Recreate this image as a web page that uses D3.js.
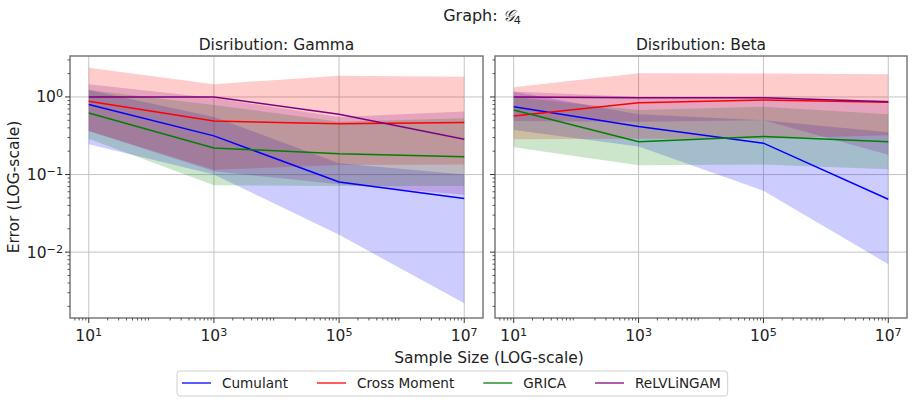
<!DOCTYPE html>
<html>
<head>
<meta charset="utf-8">
<script src="https://cdn.jsdelivr.net/npm/d3@7"></script>
<style>
  body { margin: 0; background: #fff; }
  svg text { font-family: "DejaVu Sans", sans-serif; fill: #222; }
</style>
</head>
<body>
<svg id="chart" width="915" height="403"></svg>
<script>
// Sample sizes on the x axis
const sizes = [10, 1000, 100000, 10000000];
const methods = ["Cumulant", "Cross Moment", "GRICA", "ReLVLiNGAM"];
const methodColors = ["blue", "red", "green", "purple"];

// Gamma panel: one row per method (mean, lower band, upper band)
const gammaMid = [
    [0.80, 0.315, 0.080, 0.049],
    [0.88, 0.49, 0.45, 0.47],
    [0.62, 0.22, 0.185, 0.17],
    [1.00, 1.00, 0.60, 0.285]
];
const gammaLow = [
    [0.246, 0.10, 0.0167, 0.0022],
    [0.365, 0.115, 0.133, 0.135],
    [0.29, 0.073, 0.071, 0.071],
    [0.365, 0.11, 0.075, 0.055]
];
const gammaHigh = [
    [1.23, 0.55, 0.14, 0.10],
    [2.38, 1.46, 1.88, 1.82],
    [1.23, 0.79, 0.48, 0.53],
    [1.46, 0.97, 0.55, 0.65]
];

// Beta panel
const betaMid = [
    [0.75, 0.415, 0.254, 0.048],
    [0.57, 0.845, 0.915, 0.855],
    [0.68, 0.264, 0.31, 0.264],
    [1.00, 0.98, 0.98, 0.87]
];
const betaLow = [
    [0.375, 0.23, 0.062, 0.007],
    [0.285, 0.29, 0.29, 0.32],
    [0.225, 0.132, 0.135, 0.117],
    [0.49, 0.48, 0.50, 0.18]
];
const betaHigh = [
    [1.17, 0.60, 0.50, 0.35],
    [1.33, 2.02, 2.00, 1.96],
    [1.00, 0.68, 0.75, 0.60],
    [1.18, 1.00, 1.00, 0.90]
];

const xTicks = [10, 1000, 100000, 10000000];
const xTickExp = ["1", "3", "5", "7"];
const yTicks = [0.01, 0.1, 1];
const yTickExp = ["\u22122", "\u22121", "0"];

const panelTitles = ["Disribution: Gamma", "Disribution: Beta"];

// Layout
const svg = d3.select("#chart");
const plotTop = 56, plotBottom = 318;
const FONT = "15.5px";
const panels = [
    {left: 70, right: 483, title: panelTitles[0], mid: gammaMid, low: gammaLow, high: gammaHigh, labels: true},
    {left: 495, right: 907, title: panelTitles[1], mid: betaMid, low: betaLow, high: betaHigh, labels: false}
];

const y = d3.scaleLog()
    .domain([Math.pow(10, -2.849), Math.pow(10, 0.528)])
    .range([plotBottom, plotTop]);

// minor ticks 2..9 x 10^e
function minorTicks(domain, e0, e1) {
    const out = [];
    for (let e = e0; e <= e1; e++) {
        for (let k = 2; k <= 9; k++) {
            const v = k * Math.pow(10, e);
            if (v >= domain[0] && v <= domain[1]) out.push(v);
        }
    }
    return out;
}

function powLabel(sel, exp) {
    sel.text("10");
    sel.append("tspan")
        .attr("dy", "-0.45em")
        .attr("font-size", "0.72em")
        .text(exp);
}

panels.forEach((p, pi) => {
    const x = d3.scaleLog()
        .domain([Math.pow(10, 0.7), Math.pow(10, 7.3)])
        .range([p.left, p.right]);

    const g = svg.append("g");

    const clipId = "clip" + pi;
    g.append("clipPath").attr("id", clipId)
        .append("rect")
        .attr("x", p.left).attr("y", plotTop)
        .attr("width", p.right - p.left).attr("height", plotBottom - plotTop);

    // grid
    g.append("g").selectAll("line").data(xTicks).enter().append("line")
        .attr("x1", d => x(d)).attr("x2", d => x(d))
        .attr("y1", plotTop).attr("y2", plotBottom)
        .attr("stroke", "#c4c4c4").attr("stroke-width", 1);
    g.append("g").selectAll("line").data(yTicks).enter().append("line")
        .attr("x1", p.left).attr("x2", p.right)
        .attr("y1", d => y(d)).attr("y2", d => y(d))
        .attr("stroke", "#c4c4c4").attr("stroke-width", 1);

    const plot = g.append("g").attr("clip-path", "url(#" + clipId + ")");

    // bands first
    methods.forEach((m, i) => {
        const pts = sizes.map((s, j) => ({s: s, lo: p.low[i][j], hi: p.high[i][j]}));
        const area = d3.area()
            .x(d => x(d.s))
            .y0(d => y(d.lo))
            .y1(d => y(d.hi));
        plot.append("path")
            .attr("d", area(pts))
            .attr("fill", methodColors[i])
            .attr("fill-opacity", 0.2);
    });

    // mean lines on top
    methods.forEach((m, i) => {
        const pts = sizes.map((s, j) => ({s: s, v: p.mid[i][j]}));
        const line = d3.line().x(d => x(d.s)).y(d => y(d.v));
        plot.append("path")
            .attr("d", line(pts))
            .attr("fill", "none")
            .attr("stroke", methodColors[i])
            .attr("stroke-width", 1.5);
    });

    // frame
    g.append("rect")
        .attr("x", p.left).attr("y", plotTop)
        .attr("width", p.right - p.left).attr("height", plotBottom - plotTop)
        .attr("fill", "none")
        .attr("stroke", "#7a7a7a").attr("stroke-width", 1.5);

    // x ticks
    const xMinor = minorTicks(x.domain(), 0, 7);
    g.append("g").selectAll("line").data(xMinor).enter().append("line")
        .attr("x1", d => x(d)).attr("x2", d => x(d))
        .attr("y1", plotBottom).attr("y2", plotBottom + 2.5)
        .attr("stroke", "#333").attr("stroke-width", 0.8);
    g.append("g").selectAll("line").data(xTicks).enter().append("line")
        .attr("x1", d => x(d)).attr("x2", d => x(d))
        .attr("y1", plotBottom).attr("y2", plotBottom + 5)
        .attr("stroke", "#333").attr("stroke-width", 1);
    g.append("g").selectAll("text").data(xTicks).enter().append("text")
        .attr("x", d => x(d))
        .attr("y", 341)
        .attr("text-anchor", "middle")
        .attr("font-size", FONT)
        .each(function(d, i) { powLabel(d3.select(this), xTickExp[i]); });

    // y ticks
    const yMinor = minorTicks(y.domain(), -3, 0);
    g.append("g").selectAll("line").data(yMinor).enter().append("line")
        .attr("x1", p.left - 2.5).attr("x2", p.left)
        .attr("y1", d => y(d)).attr("y2", d => y(d))
        .attr("stroke", "#333").attr("stroke-width", 0.8);
    g.append("g").selectAll("line").data(yTicks).enter().append("line")
        .attr("x1", p.left - 5).attr("x2", p.left)
        .attr("y1", d => y(d)).attr("y2", d => y(d))
        .attr("stroke", "#333").attr("stroke-width", 1);
    if (p.labels) {
        g.append("g").selectAll("text").data(yTicks).enter().append("text")
            .attr("x", p.left - 7)
            .attr("y", d => y(d) + 5.5)
            .attr("text-anchor", "end")
            .attr("font-size", FONT)
            .each(function(d, i) { powLabel(d3.select(this), yTickExp[i]); });
    }

    // panel title
    g.append("text")
        .attr("x", (p.left + p.right) / 2)
        .attr("y", 50)
        .attr("text-anchor", "middle")
        .attr("font-size", FONT)
        .text(p.title);
});

// figure title
const title = svg.append("text")
    .attr("x", 482).attr("y", 21)
    .attr("text-anchor", "middle")
    .attr("font-size", "16px")
    .text("Graph: ");
title.append("tspan")
    .attr("font-family", "DejaVu Serif, serif")
    .attr("font-style", "italic")
    .text("\uD835\uDCA2");
title.append("tspan")
    .attr("dy", "0.25em")
    .attr("font-size", "0.7em")
    .text("4");

// axis labels
svg.append("text")
    .attr("transform", "translate(19,187) rotate(-90)")
    .attr("text-anchor", "middle")
    .attr("font-size", FONT)
    .text("Error (LOG-scale)");
svg.append("text")
    .attr("x", 489).attr("y", 363)
    .attr("text-anchor", "middle")
    .attr("font-size", FONT)
    .text("Sample Size (LOG-scale)");

// legend
const legend = svg.append("g");
const legendBox = legend.append("rect")
    .attr("x", 177).attr("y", 371)
    .attr("rx", 3).attr("ry", 3)
    .attr("height", 25)
    .attr("fill", "#fff")
    .attr("stroke", "#d0d0d0").attr("stroke-width", 1);
let lx = 182;
methods.forEach((m, i) => {
    legend.append("line")
        .attr("x1", lx).attr("x2", lx + 29)
        .attr("y1", 383).attr("y2", 383)
        .attr("stroke", methodColors[i])
        .attr("stroke-opacity", 0.85)
        .attr("stroke-width", 1.5);
    const t = legend.append("text")
        .attr("x", lx + 40).attr("y", 388)
        .attr("font-size", "13.6px")
        .text(m);
    lx += 40 + t.node().getComputedTextLength() + 29;
});
legendBox.attr("width", lx - 29 + 7 - 177);
</script>
</body>
</html>
